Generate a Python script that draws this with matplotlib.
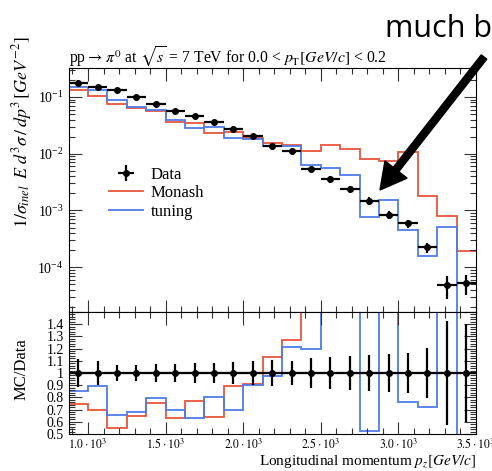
import matplotlib
matplotlib.use('Agg')
import matplotlib.pyplot as plt
import numpy as np
from matplotlib.patches import FancyArrow
from matplotlib.ticker import MultipleLocator, FixedLocator, FixedFormatter, LogLocator, NullFormatter, FuncFormatter

plt.rcParams['font.family'] = ['Liberation Serif', 'DejaVu Serif']
plt.rcParams['mathtext.fontset'] = 'stix'

# binning in p_z [GeV/c]
bin_edges = np.arange(875, 3501, 125)

# measured cross section and relative uncertainty
data = [0.179, 0.148, 0.135, 0.0987, 0.0743, 0.0566, 0.0456, 0.0362, 0.0276, 0.0205, 0.0138,
        0.0112, 0.00537, 0.00353, 0.00236, 0.00148, 0.00083, 0.00059, 0.000223, 4.8e-5, 5.3e-5]
data_relerr = [0.115, 0.098, 0.068, 0.068, 0.074, 0.074, 0.082, 0.082, 0.090, 0.096, 0.109,
               0.100, 0.123, 0.131, 0.137, 0.148, 0.156, 0.164, 0.208, 0.430, 0.400]

# MC predictions
monash = [0.133, 0.1032, 0.0738, 0.0640, 0.0562, 0.0359, 0.0352, 0.0230, 0.0246, 0.01866, 0.0156,
          0.0142, 0.0113, 0.0142, 0.0119, 0.0082, 0.0073, 0.0105, 0.00182, 0.00080, 0.000195]
tuning = [0.1525, 0.1323, 0.0886, 0.0671, 0.0591, 0.0395, 0.0289, 0.0290, 0.01915, 0.01845, 0.01346,
          0.0136, 0.00644, 0.00552, 0.0042, 0.00078, 0.00152, 0.00045, 0.00016, 0.00052, 1e-6]

xtick_vals = [1000, 1500, 2000, 2500, 3000, 3500]
xtick_labels = [r'$1.0\cdot10^{3}$', r'$1.5\cdot10^{3}$', r'$2.0\cdot10^{3}$',
                r'$2.5\cdot10^{3}$', r'$3.0\cdot10^{3}$', r'$3.5\cdot10^{3}$']

red = '#e8553b'
blue = '#4f7be8'

data = np.array(data)
rel = np.array(data_relerr)
centers = 0.5 * (bin_edges[:-1] + bin_edges[1:])
halfw = 0.5 * np.diff(bin_edges)

fig = plt.figure(figsize=(4.92, 4.71), dpi=100)
ax = fig.add_axes([0.1394, 0.3376, 0.8280, 0.5180])
axr = fig.add_axes([0.1394, 0.0786, 0.8280, 0.2590], sharex=ax)

# main panel
ax.stairs(monash, bin_edges, baseline=None, color=red, lw=1.3, label='Monash')
ax.stairs(tuning, bin_edges, baseline=None, color=blue, lw=1.3, label='tuning')
ax.errorbar(centers, data, yerr=data * rel, xerr=halfw, fmt='o', color='black',
            ms=4, elinewidth=1.6, capsize=0, label='Data')
ax.set_yscale('log')
ax.set_ylim(1.62e-5, 0.324)
ax.set_xlim(875, 3500)
ax.yaxis.set_major_locator(LogLocator(base=10, numticks=10))
ax.yaxis.set_minor_locator(LogLocator(base=10, subs=np.arange(2, 10), numticks=10))
ax.yaxis.set_minor_formatter(NullFormatter())
ax.xaxis.set_major_locator(FixedLocator(xtick_vals))
ax.xaxis.set_minor_locator(MultipleLocator(100))
ax.tick_params(which='both', direction='in', top=True, right=True, labelbottom=False,
               labelsize=10, width=0.8, color='#333333')
ax.tick_params(which='major', length=9)
ax.tick_params(which='minor', length=4.5)

h, l = ax.get_legend_handles_labels()
order = [l.index('Data'), l.index('Monash'), l.index('tuning')]
ax.legend([h[i] for i in order], [l[i] for i in order], loc='upper left',
          bbox_to_anchor=(0.10, 0.595), frameon=False, fontsize=12, handlelength=2.0,
          handletextpad=0.5, labelspacing=0.15, borderpad=0, borderaxespad=0)

# ratio panel
axr.axhline(1.0, color='black', lw=1.5)
axr.stairs(np.array(monash) / data, bin_edges, baseline=None, color=red, lw=1.3)
axr.stairs(np.array(tuning) / data, bin_edges, baseline=None, color=blue, lw=1.3)
axr.errorbar(centers, np.ones_like(data), yerr=rel, xerr=halfw, fmt='o', color='black',
             ms=4, elinewidth=1.6, capsize=0)
axr.set_ylim(0.5, 1.5)
axr.yaxis.set_major_locator(MultipleLocator(0.1))
axr.yaxis.set_minor_locator(MultipleLocator(0.02))
axr.yaxis.set_major_formatter(FuncFormatter(
    lambda v, p: '' if v > 1.45 else ('1' if abs(v - 1) < 1e-6 else f'{v:.1f}')))
axr.xaxis.set_major_formatter(FixedFormatter(xtick_labels))
axr.tick_params(which='both', direction='in', top=True, right=True, labelsize=10,
                width=0.8, color='#333333')
axr.tick_params(which='major', length=9)
axr.tick_params(which='minor', length=4.5)
axr.tick_params(axis='x', labelsize=8.5, pad=3)

# labels
fig.text(0.1394, 1 - 63 / 471,
         r'pp$\rightarrow\,\pi^0$ at $\sqrt{s}$ = 7 TeV for 0.0 < $p_\mathrm{T}[GeV/c]$ < 0.2',
         fontsize=11.3, ha='left', va='baseline')
fig.text(22 / 492, 1 - 228 / 471,
         r'$1/\sigma_{inel}\;\;E\;d^3\sigma\,/\,dp^3\,[GeV^{-2}]$',
         rotation=90, fontsize=13, ha='center', va='bottom')
fig.text(22 / 492, 1 - 369 / 471, 'MC/Data', rotation=90, fontsize=12, ha='center', va='center')
fig.text(476 / 492, 1 - 470.5 / 471, r'Longitudinal momentum $p_z[GeV/c]$', fontsize=11,
         ha='right', va='bottom')

# slide annotation
fig.text(385 / 492, 1 - 37 / 471, 'much b', fontsize=22, family='Open Sans', va='baseline')
arrow = FancyArrow(484, 471 - 57, -104, -133, width=7, head_width=28, head_length=26,
                   length_includes_head=True, color='black', transform=None)
fig.patches.append(arrow)

fig.savefig('out.png', dpi=100)
